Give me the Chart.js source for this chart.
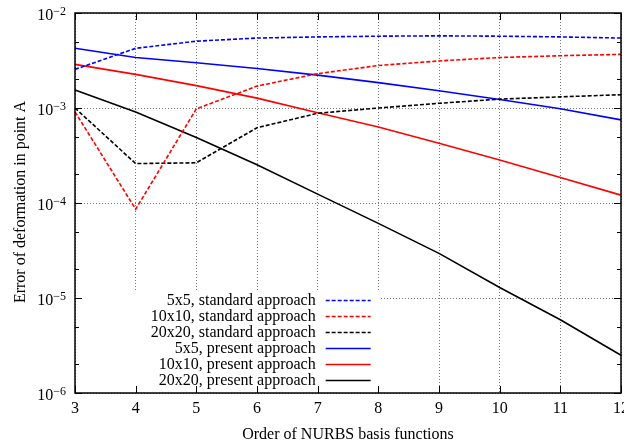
<!DOCTYPE html>
<html>
<head>
<meta charset="utf-8">
<script src="https://cdn.jsdelivr.net/npm/chart.js@4/dist/chart.umd.min.js"></script>
<style>
  html, body { margin: 0; padding: 0; background: #fff; }
  #wrap { width: 624px; height: 446px; }
</style>
</head>
<body>
<div id="wrap"><canvas id="chart"></canvas></div>
<script>
// order of NURBS basis functions
const orders = [3, 4, 5, 6, 7, 8, 9, 10, 11, 12];

// standard approach
const std5x5   = [2.55e-3, 4.25e-3, 5.05e-3, 5.45e-3, 5.6e-3, 5.7e-3, 5.75e-3, 5.7e-3, 5.6e-3, 5.45e-3];
const std10x10 = [9.1e-4, 8.6e-5, 9.8e-4, 1.7e-3, 2.3e-3, 2.8e-3, 3.13e-3, 3.4e-3, 3.55e-3, 3.67e-3];
const std20x20 = [1.0e-3, 2.6e-4, 2.65e-4, 6.2e-4, 8.8e-4, 1.0e-3, 1.12e-3, 1.24e-3, 1.31e-3, 1.38e-3];

// present approach
const pre5x5   = [4.25e-3, 3.4e-3, 3.0e-3, 2.6e-3, 2.22e-3, 1.85e-3, 1.52e-3, 1.23e-3, 9.8e-4, 7.5e-4];
const pre10x10 = [2.88e-3, 2.26e-3, 1.72e-3, 1.27e-3, 8.9e-4, 6.3e-4, 4.25e-4, 2.84e-4, 1.86e-4, 1.21e-4];
const pre20x20 = [1.55e-3, 9.1e-4, 4.9e-4, 2.53e-4, 1.24e-4, 6.1e-5, 2.95e-5, 1.29e-5, 5.9e-6, 2.5e-6];

const seriesNames = [
  '5x5, standard approach', '10x10, standard approach', '20x20, standard approach',
  '5x5, present approach', '10x10, present approach', '20x20, present approach'
];

// y ticks: decades plus minor ticks at 2 and 5
const yTicks = [1e-6, 2e-6, 5e-6, 1e-5, 2e-5, 5e-5, 1e-4, 2e-4, 5e-4, 1e-3, 2e-3, 5e-3, 1e-2];

const xTitle = 'Order of NURBS basis functions';
const yTitle = 'Error of deformation in point A';

const FONT = "'Liberation Serif', 'Times New Roman', serif";
const dash = [4, 2];
const gridGrey = '#7a7a7a';

function isDecade(v) {
  const l = Math.log10(v);
  return Math.abs(l - Math.round(l)) < 1e-6;
}

function makeSet(label, data, color, dashed) {
  return {
    label: label,
    data: data,
    borderColor: color,
    backgroundColor: color,
    borderWidth: 1.6,
    borderDash: dashed ? dash : [],
    pointRadius: 0,
    tension: 0,
    fill: false
  };
}

// gnuplot-like frame: opaque key box, border, inward ticks, labels, titles
const gnuplotLook = {
  id: 'gnuplotLook',
  beforeDatasetsDraw(chart) {
    const ctx = chart.ctx;
    const x = chart.scales.x, y = chart.scales.y;
    // the key is opaque and hides the grid behind it
    ctx.save();
    ctx.fillStyle = '#fff';
    const l = x.getPixelForValue(0) + 9;
    const r = x.getPixelForValue(5) + 2;
    const t = y.getPixelForValue(1e-5) - 8;
    ctx.fillRect(l, t, r - l, chart.chartArea.bottom - t);
    ctx.restore();
  },
  afterDatasetsDraw(chart) {
    const ctx = chart.ctx;
    const a = chart.chartArea;
    const x = chart.scales.x, y = chart.scales.y;
    ctx.save();
    ctx.strokeStyle = '#000';
    ctx.lineWidth = 1;
    ctx.beginPath();
    orders.forEach((o, i) => {
      const px = Math.round(x.getPixelForValue(i)) + 0.5;
      ctx.moveTo(px, a.bottom); ctx.lineTo(px, a.bottom - 7);
      ctx.moveTo(px, a.top); ctx.lineTo(px, a.top + 7);
    });
    yTicks.forEach(v => {
      const py = Math.round(y.getPixelForValue(v)) + 0.5;
      const len = isDecade(v) ? 7 : 4;
      ctx.moveTo(a.left, py); ctx.lineTo(a.left + len, py);
      ctx.moveTo(a.right, py); ctx.lineTo(a.right - len, py);
    });
    ctx.stroke();
    ctx.lineWidth = 1.5;
    ctx.strokeRect(a.left, a.top, a.right - a.left, a.bottom - a.top);

    // key
    ctx.font = '16px ' + FONT;
    ctx.fillStyle = '#000';
    ctx.textAlign = 'right';
    ctx.textBaseline = 'middle';
    const textRight = x.getPixelForValue(4) - 2;
    const y0 = y.getPixelForValue(1e-5) + 1.5;
    chart.data.datasets.forEach((ds, i) => {
      const ry = y0 + i * 16.15;
      ctx.fillText(ds.label, textRight, ry + 1);
      ctx.beginPath();
      ctx.strokeStyle = ds.borderColor;
      ctx.lineWidth = 1.6;
      ctx.setLineDash(ds.borderDash);
      ctx.moveTo(textRight + 10, Math.round(ry) + 0.5);
      ctx.lineTo(textRight + 55, Math.round(ry) + 0.5);
      ctx.stroke();
    });
    ctx.setLineDash([]);

    // y tick labels 10^n
    yTicks.filter(isDecade).forEach(v => {
      const py = y.getPixelForValue(v);
      const exp = '\u2212' + Math.abs(Math.round(Math.log10(v)));
      ctx.textBaseline = 'alphabetic';
      ctx.font = '12px ' + FONT;
      const w = ctx.measureText(exp).width;
      const sx = a.left - 9 - w;
      ctx.textAlign = 'left';
      ctx.fillText(exp, sx, py + 2);
      ctx.font = '16px ' + FONT;
      ctx.textAlign = 'right';
      ctx.fillText('10', sx, py + 7);
    });

    // axis titles
    ctx.font = '16px ' + FONT;
    ctx.textAlign = 'center';
    ctx.textBaseline = 'alphabetic';
    ctx.fillText(xTitle, (a.left + a.right) / 2, 438.5);
    ctx.translate(25, (a.top + a.bottom) / 2 - 1);
    ctx.rotate(-Math.PI / 2);
    ctx.fillText(yTitle, 0, 0);
    ctx.restore();
  }
};

const chart = new Chart(document.getElementById('chart'), {
  type: 'line',
  data: {
    labels: orders,
    datasets: [
      makeSet(seriesNames[0], std5x5, '#0000ff', true),
      makeSet(seriesNames[1], std10x10, '#ff0000', true),
      makeSet(seriesNames[2], std20x20, '#000000', true),
      makeSet(seriesNames[3], pre5x5, '#0000ff', false),
      makeSet(seriesNames[4], pre10x10, '#ff0000', false),
      makeSet(seriesNames[5], pre20x20, '#000000', false)
    ]
  },
  options: {
    responsive: true,
    maintainAspectRatio: false,
    animation: false,
    layout: { padding: { top: 13, right: 3, bottom: 0, left: 0 } },
    plugins: {
      legend: { display: false },
      tooltip: { enabled: false }
    },
    scales: {
      x: {
        type: 'category',
        offset: false,
        border: { display: false, dash: [1, 2] },
        grid: {
          drawTicks: false,
          color: gridGrey,
          lineWidth: 1
        },
        ticks: {
          color: '#000',
          font: { family: FONT, size: 16 },
          padding: 6,
          maxRotation: 0,
          autoSkip: false
        },
        afterFit(scale) {
          scale.height = 53;
          scale.paddingLeft = 0;
          scale.paddingRight = 0;
        }
      },
      y: {
        type: 'logarithmic',
        min: 1e-6,
        max: 1e-2,
        border: { display: false, dash: [1, 2] },
        grid: {
          drawTicks: false,
          lineWidth: 1,
          color: ctx => (ctx.tick && isDecade(ctx.tick.value)) ? gridGrey : 'rgba(0,0,0,0)'
        },
        ticks: { display: false },
        afterBuildTicks(scale) {
          scale.ticks = yTicks.map(v => ({ value: v, major: isDecade(v) }));
        },
        afterFit(scale) {
          scale.width = 75;
          scale.paddingTop = 0;
          scale.paddingBottom = 0;
        }
      }
    }
  },
  plugins: [gnuplotLook]
});
</script>
</body>
</html>
